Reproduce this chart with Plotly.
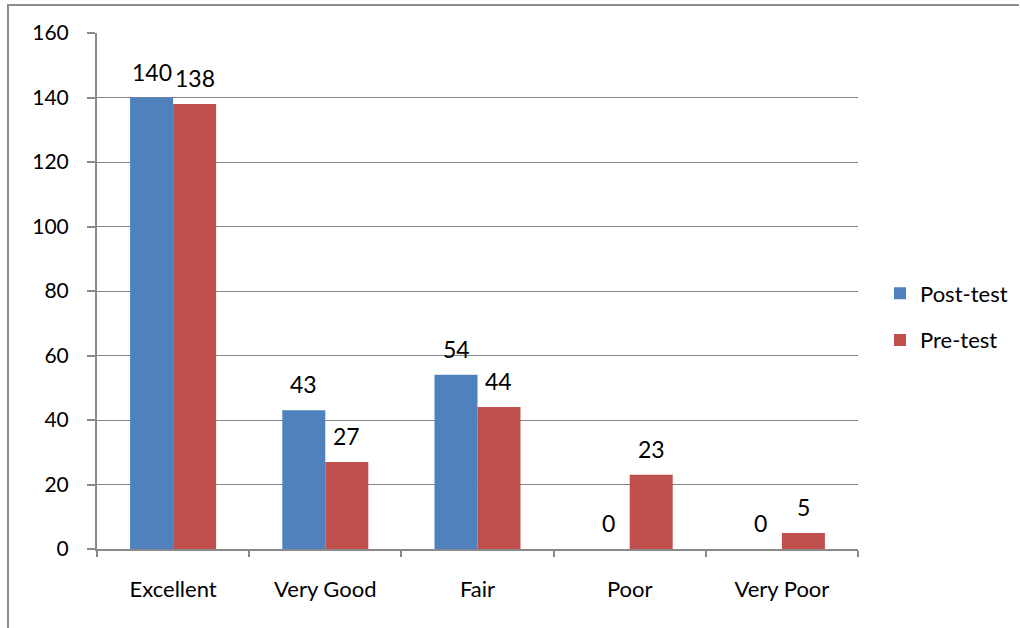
import plotly.graph_objects as go

categories = ["Excellent", "Very Good", "Fair", "Poor", "Very Poor"]
post_test = [140, 43, 54, 0, 0]
pre_test = [138, 27, 44, 23, 5]
y_ticks = [0, 20, 40, 60, 80, 100, 120, 140, 160]

FONT = "Lato"
fig = go.Figure()
fig.add_trace(go.Bar(name="Post-test", x=categories, y=post_test, marker_color="#4F81BD",
                     marker_line_width=0, legendgroup="a"))
fig.add_trace(go.Bar(name="Pre-test", x=categories, y=pre_test, marker_color="#C0504D",
                     marker_line_width=0, legendgroup="b"))

L, R, T, B = 97, 858, 33, 549
W, H = 1020, 628
pw, ph = R - L, B - T
bar_px = 0.565 * pw / len(categories) / 2

annotations = []
for series, shift in ((post_test, -bar_px / 2), (pre_test, bar_px / 2)):
    for c, v in zip(categories, series):
        annotations.append(dict(x=c, y=v, xref="x", yref="y", text=str(v), showarrow=False,
                                xshift=shift, yshift=26, yanchor="middle",
                                font=dict(size=23, family=FONT, color="black")))

fig.update_layout(
    width=W, height=H,
    margin=dict(l=L, r=W - R, t=T, b=H - B, pad=0, autoexpand=False),
    paper_bgcolor="white", plot_bgcolor="white",
    barmode="group", bargap=0.435, bargroupgap=0,
    font=dict(family=FONT, size=21, color="black"),
    legend=dict(x=(880 - L) / pw, y=(B - 317) / ph, xanchor="left", yanchor="middle",
                font=dict(size=22, family=FONT), traceorder="grouped", tracegroupgap=15,
                itemwidth=30),
    annotations=annotations,
    shapes=[
        dict(type="line", xref="paper", yref="paper", x0=(7 - L) / pw, x1=(1019 - L) / pw,
             y0=(B - 5) / ph, y1=(B - 5) / ph, line=dict(color="#8c8c8c", width=2)),
        dict(type="line", xref="paper", yref="paper", x0=(8 - L) / pw, x1=(8 - L) / pw,
             y0=(B - 5) / ph, y1=(B - 640) / ph, line=dict(color="#8c8c8c", width=2)),
    ],
)
fig.update_yaxes(range=[0, 160], tickvals=y_ticks, showgrid=True, gridcolor="#868686",
                 gridwidth=1, showline=True, linecolor="#8a8a8a", linewidth=2,
                 ticks="outside", ticklen=8, tickcolor="#8a8a8a", tickwidth=2,
                 ticklabelstandoff=14, zeroline=False, tickfont=dict(size=21),
                 automargin=False)
fig.update_xaxes(showline=True, linecolor="#8a8a8a", linewidth=2, ticks="outside",
                 tickson="boundaries", ticklen=6, tickcolor="#8a8a8a", tickwidth=2,
                 ticklabelstandoff=20, tickfont=dict(size=22), automargin=False)

fig.write_html("out.html", config={"displayModeBar": False},
               post_script="document.body.style.margin='0';document.body.style.overflow='hidden';")
